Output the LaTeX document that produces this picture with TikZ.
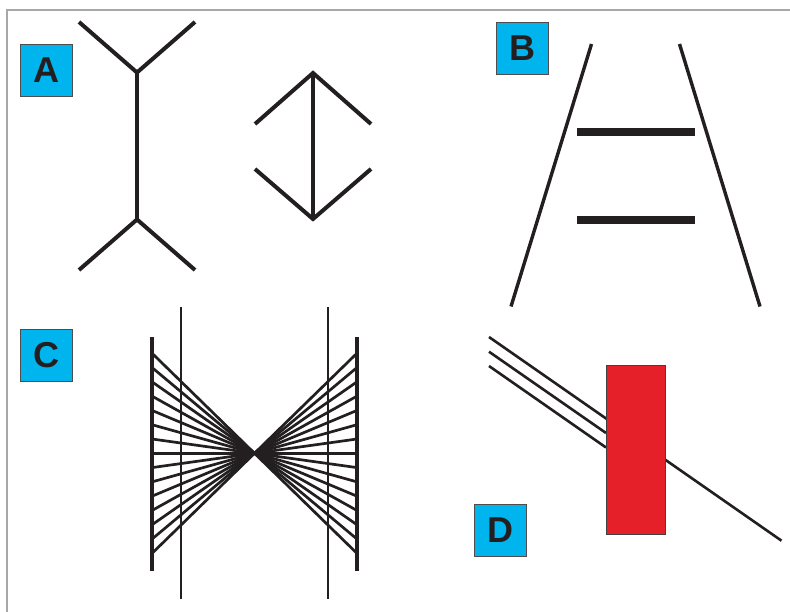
\documentclass[tikz,border=0pt]{standalone}
\usepackage{fontspec}
\setmainfont{Liberation Sans}
\definecolor{ink}{HTML}{231F20}
\definecolor{labelcyan}{HTML}{00B4EE}
\definecolor{boxred}{HTML}{E62028}
\definecolor{frame}{HTML}{A8A8A8}
\begin{document}
\begin{tikzpicture}[x=1pt,y=-1pt,
  panellabel/.style={draw=ink!80, line width=0.8pt, fill=labelcyan, minimum width=52pt, minimum height=52pt, inner sep=0pt, anchor=north west, font=\fontsize{36}{36}\selectfont\bfseries, text=ink},
  heavy/.style={draw=ink, line width=4pt},
  medium/.style={draw=ink, line width=3.4pt},
  thinline/.style={draw=ink, line width=2.6pt}]
\useasboundingbox (0,0) rectangle (790,612);
\fill[white] (0,0) rectangle (790,612);
% frame
\draw[frame, line width=1.5pt] (7,612) -- (7,10) -- (790,10);
% labels
\node[panellabel] (labA) at (20,44) {A};
\node[panellabel] (labB) at (496,22) {B};
\node[panellabel] (labC) at (20,329) {C};
\node[panellabel] (labD) at (474,504) {D};
% --- A : Mueller-Lyer ---
\draw[heavy] (79,22) -- (137,72.5) -- (195,22);
\draw[heavy] (137,72.5) -- (137,219.5);
\draw[heavy] (79,270) -- (137,219.5) -- (195,270);
\draw[heavy] (255,124) -- (313,73) -- (371,124);
\draw[draw=ink, line width=4.6pt] (313,73) -- (313,219);
\draw[heavy] (255,169) -- (313,219) -- (371,169);
% --- B : Ponzo ---
\draw[medium] (591.5,44) -- (511,306.5);
\draw[medium] (679.5,44) -- (760,306.5);
\draw[draw=ink, line width=8pt] (577,132) -- (695,132);
\draw[draw=ink, line width=8pt] (577,220) -- (695,220);
% --- C : Hering / Wundt ---
\draw[draw=ink, line width=4.4pt] (152,337) -- (152,571);
\draw[draw=ink, line width=4.4pt] (357,337) -- (357,571);
\draw[thinline] (181,307) -- (181,599);
\draw[thinline] (328,307) -- (328,599);
\foreach \i in {-7,...,7}{
  \draw[draw=ink, line width=2.7pt] (152,{453.3+\i*14.3}) -- (357,{453.3-\i*14.3});
}
% --- D : Poggendorff ---
\draw[thinline] (489,337) -- (781.5,540.7);
\draw[thinline] (489,351.7) -- (606,433);
\draw[thinline] (489,366) -- (606,447.5);
\draw[draw=ink!85, line width=0.8pt, fill=boxred] (606.3,365.3) rectangle (665.7,534);
\end{tikzpicture}
\end{document}
